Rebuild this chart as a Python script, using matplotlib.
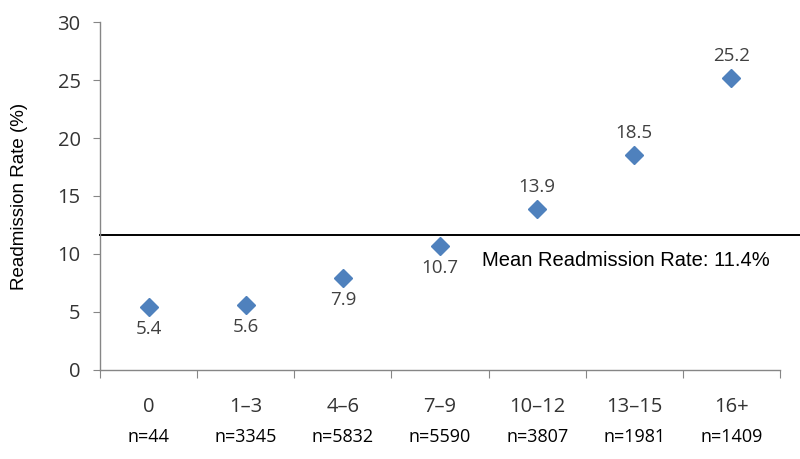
import numpy as np
import matplotlib.pyplot as plt

# readmission rate by category
categories = ['0', '1\u20133', '4\u20136', '7\u20139', '10\u201312', '13\u201315', '16+']
counts = ['n=44', 'n=3345', 'n=5832', 'n=5590', 'n=3807', 'n=1981', 'n=1409']
rates = [5.4, 5.6, 7.9, 10.7, 13.9, 18.5, 25.2]
label_below = [True, True, True, True, False, False, False]
mean_line = 11.6
mean_text = 'Mean Readmission Rate: 11.4%'

blue = '#4F81BD'
gray = '#868686'

fig = plt.figure(figsize=(8, 4.59), dpi=100)
ax = fig.add_axes([0.125, 0.194, 0.85, 0.758])

x = np.arange(len(categories))
ax.plot(x, rates, linestyle='none', marker='D', ms=9.5, color=blue, zorder=3)

for xi, r, below in zip(x, rates, label_below):
    off = -22 if below else 22
    ax.annotate(f'{r:.1f}', (xi, r), xytext=(0, off), textcoords='offset pixels',
                ha='center', va='center', fontsize=13.5, family='Open Sans', color='#404040')

# mean line runs past the end of the axis
ax.plot([-0.5, 6.72], [mean_line, mean_line], color='black', lw=1.4, clip_on=False, zorder=2)
ax.text(3.43, 9.45, mean_text, fontsize=14.5, family='Liberation Sans', color='black', va='center', ha='left')

ax.set_xlim(-0.5, 6.5)
ax.set_ylim(0, 30)
ax.set_yticks(range(0, 31, 5))
ax.set_xticks(np.arange(-0.5, 7, 1))
ax.set_xticklabels([])
ax.set_xticks(x, minor=True)
ax.set_xticklabels(categories, minor=True)
ax.tick_params(axis='x', which='minor', length=0, pad=19.5, labelsize=14.5, labelcolor='#333333')
for lab in ax.get_xticklabels(minor=True):
    lab.set_family('Open Sans')
for xi, c in zip(x, counts):
    ax.annotate(c, (xi, 0), xytext=(0, -67), textcoords='offset pixels', ha='center', va='center',
                fontsize=13, family='Open Sans', color='black', annotation_clip=False)

ax.tick_params(axis='x', which='major', length=6, color=gray, direction='out')
ax.tick_params(axis='y', length=5, color=gray, labelsize=14.5, labelcolor='#333333', pad=9)
for lab in ax.get_yticklabels():
    lab.set_family('Open Sans')

for s in ['top', 'right']:
    ax.spines[s].set_visible(False)
for s in ['left', 'bottom']:
    ax.spines[s].set_color(gray)
    ax.spines[s].set_linewidth(1.0)

ax.set_ylabel('Readmission Rate (%)', fontsize=13.5, family='Liberation Sans', labelpad=21)

fig.savefig('out.png', dpi=100)
